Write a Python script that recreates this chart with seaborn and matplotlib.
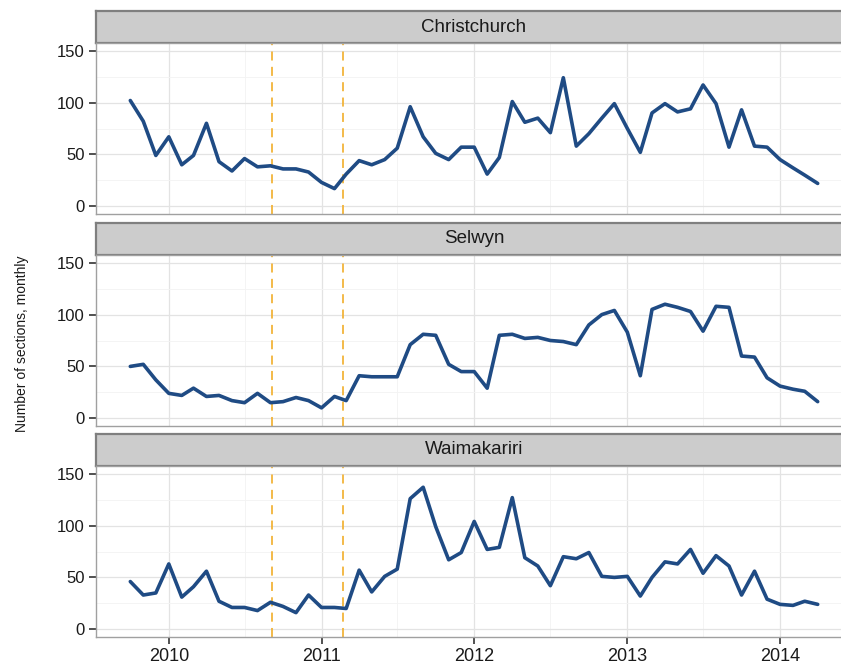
import numpy as np
import matplotlib.pyplot as plt
import matplotlib.dates as mdates
import seaborn as sns
import pandas as pd

# monthly data, Oct 2009 - Apr 2014
months = pd.date_range("2009-10-01", periods=55, freq="MS")

christchurch = [102, 82, 49, 67, 40, 49, 80, 43, 34, 46, 38, 39, 36, 36, 33, 23, 17, 31, 44, 40,
                45, 56, 96, 67, 51, 45, 57, 57, 31, 47, 101, 81, 85, 71, 124, 58, 70, 85, 99, 75,
                52, 90, 99, 91, 94, 117, 99, 57, 93, 58, 57, 45, 37, 30, 22]
selwyn = [50, 52, 37, 24, 22, 29, 21, 22, 17, 15, 24, 15, 16, 20, 17, 10, 21, 17, 41, 40,
          40, 40, 71, 81, 80, 52, 45, 45, 29, 80, 81, 77, 78, 75, 74, 71, 90, 100, 104, 83,
          41, 105, 110, 107, 103, 84, 108, 107, 60, 59, 39, 31, 28, 26, 16]
waimakariri = [46, 33, 35, 63, 31, 41, 56, 27, 21, 21, 18, 26, 22, 16, 33, 21, 21, 20, 57, 36,
               51, 58, 126, 137, 99, 67, 74, 104, 77, 79, 127, 69, 61, 42, 70, 68, 74, 51, 50, 51,
               32, 50, 65, 63, 77, 54, 71, 61, 33, 56, 29, 24, 23, 27, 24]

regions = ["Christchurch", "Selwyn", "Waimakariri"]
series = [christchurch, selwyn, waimakariri]
quakes = [pd.Timestamp("2010-09-04"), pd.Timestamp("2011-02-22")]

sns.set_style("white")
plt.rcParams["font.family"] = ["Liberation Sans", "DejaVu Sans"]

W, H = 841, 671
fig = plt.figure(figsize=(W / 100, H / 100), dpi=100)


def px_axes(left, top, right, bottom):
    return fig.add_axes([left / W, 1 - bottom / H, (right - left) / W, (bottom - top) / H])


pad = pd.Timedelta(days=82)
xlim = (months[0] - pad, months[-1] + pad)
strip_tops = [11, 223, 434]
left, right = 96, 852

for i, (name, vals) in enumerate(zip(regions, series)):
    top = strip_tops[i]
    strip = px_axes(left, top, right, top + 32)
    strip.set_facecolor("#CCCCCC")
    strip.set_xticks([])
    strip.set_yticks([])
    for s in strip.spines.values():
        s.set_color("#7F7F7F")
        s.set_linewidth(1.6)
    strip.text(0.5, 0.5, name, transform=strip.transAxes,
               ha="center", va="center", fontsize=13.5, color="#1A1A1A")

    ax = px_axes(left, top + 32, right, top + 32 + 171)
    df = pd.DataFrame({"date": months, "value": vals})
    for q in quakes:
        ax.axvline(q, color="#F2B43A", lw=1.3, ls=(0, (5, 3.5)), zorder=2)
    sns.lineplot(data=df, x="date", y="value", ax=ax, color="#1F4B84", lw=2.6, zorder=3)

    ax.set_xlim(*xlim)
    ax.set_ylim(-7.5, 157.5)
    ax.set_yticks([0, 50, 100, 150])
    ax.set_yticks([25, 75, 125], minor=True)
    ax.xaxis.set_major_locator(mdates.YearLocator())
    ax.xaxis.set_major_formatter(mdates.DateFormatter("%Y"))
    ax.xaxis.set_minor_locator(mdates.MonthLocator(bymonth=7))
    ax.grid(which="major", color="#E3E3E3", lw=0.9)
    ax.grid(which="minor", color="#F3F3F3", lw=0.6)
    ax.set_axisbelow(True)
    ax.set_xlabel("")
    ax.set_ylabel("")
    for s in ax.spines.values():
        s.set_color("#A0A0A0")
        s.set_linewidth(1.0)
    ax.tick_params(axis="y", which="major", left=True, length=5, width=1.2, color="#333333",
                   labelsize=12, labelcolor="#1A1A1A", pad=3)
    ax.tick_params(axis="both", which="minor", length=0)
    if i < 2:
        ax.tick_params(axis="x", which="major", bottom=False, length=0, labelbottom=False)
    else:
        ax.tick_params(axis="x", which="major", bottom=True, length=5, width=1.2, color="#333333",
                       labelsize=13, labelcolor="#1A1A1A", pad=3)

fig.text(22 / W, 1 - 344 / H, "Number of sections, monthly", rotation=90,
         ha="center", va="center", fontsize=10, color="#1A1A1A")

fig.savefig("out.png", dpi=100)
